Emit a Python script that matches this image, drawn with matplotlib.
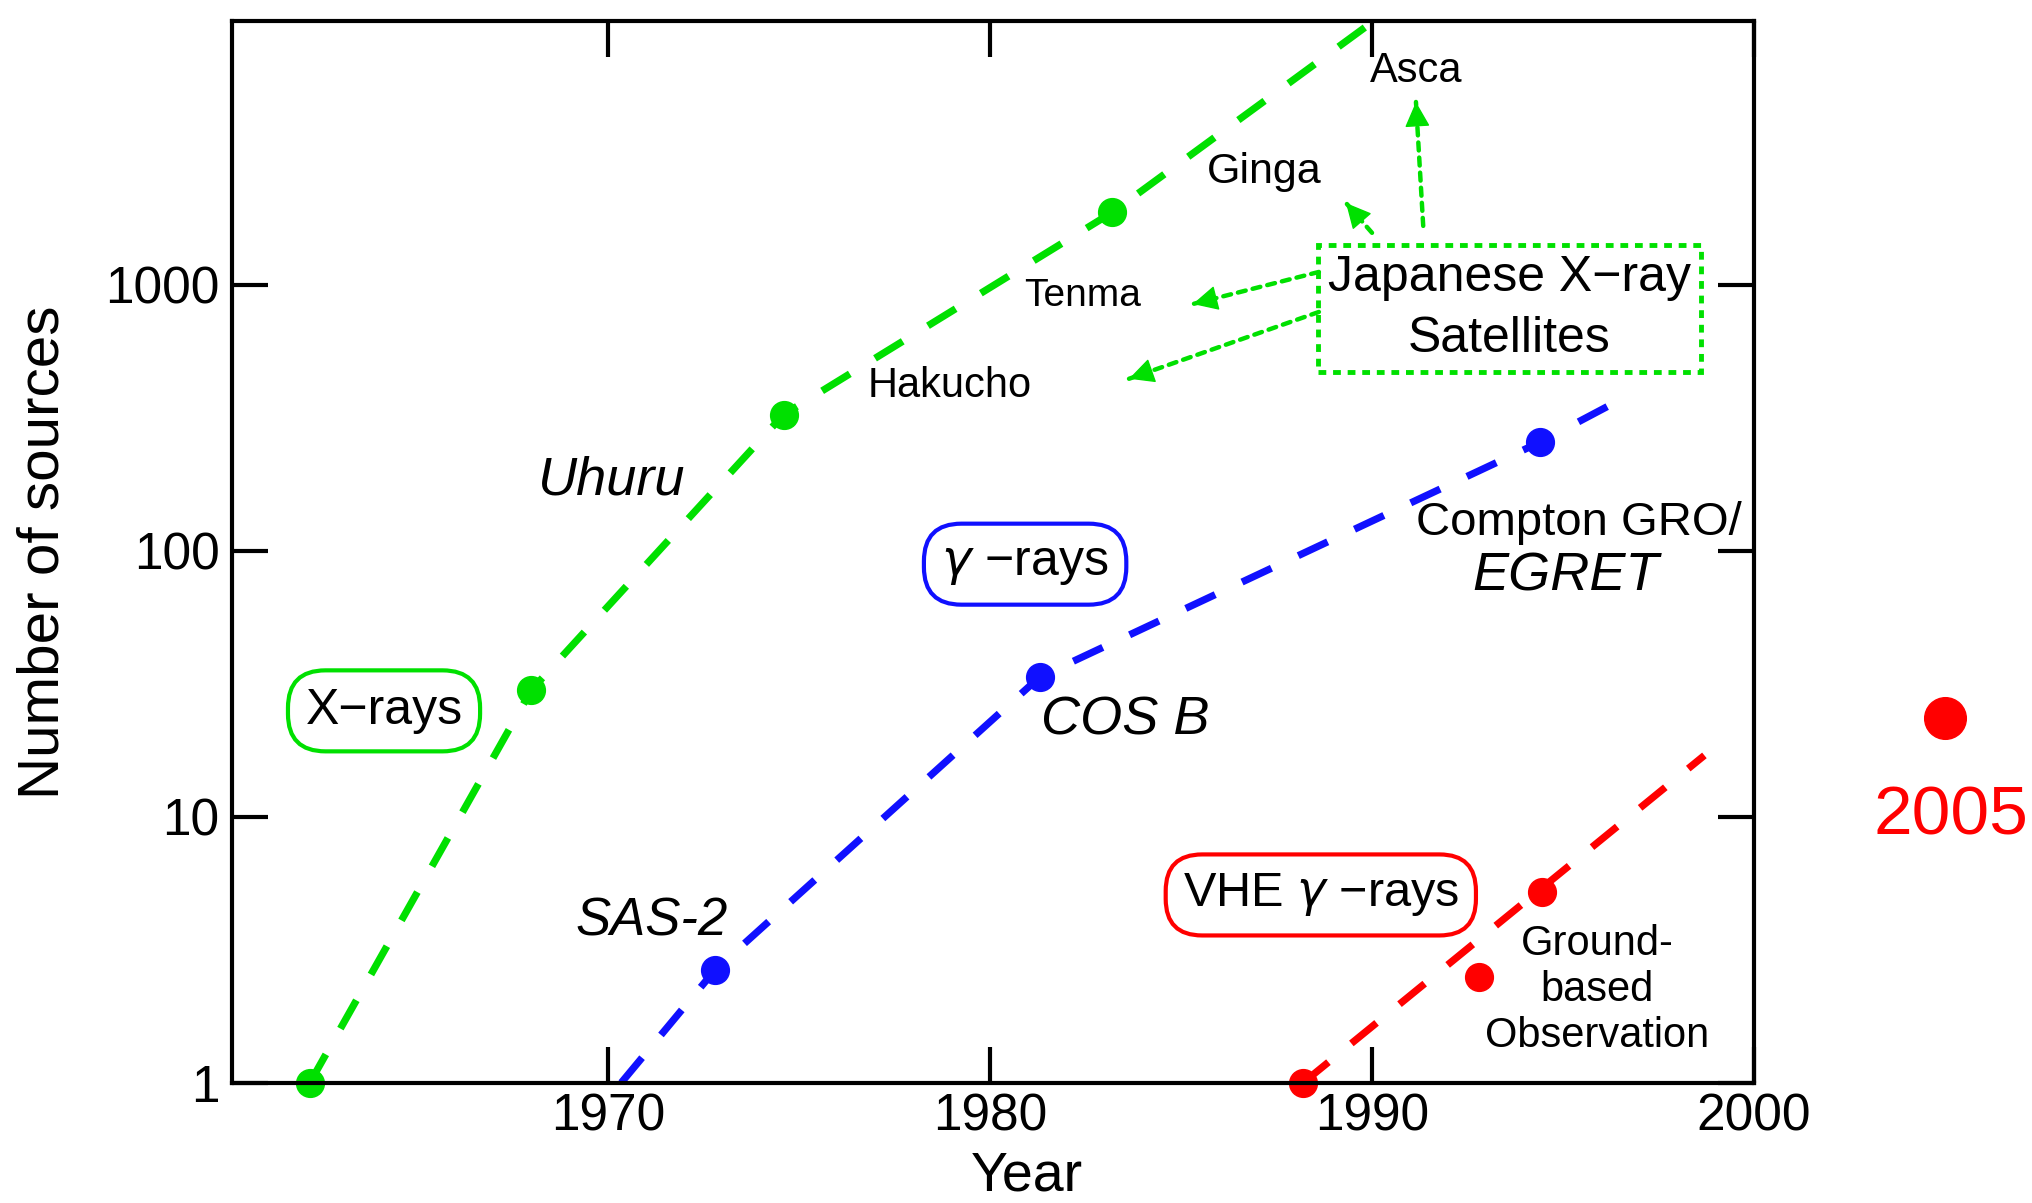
import numpy as np
import matplotlib.pyplot as plt

# X-ray sources per mission
xray_years = [1962.2, 1968.0, 1974.6, 1983.2]
xray_sources = [1, 30, 325, 1870]
xray_trend_years = [1962.2, 1968.0, 1974.6, 1983.2, 1990.0]
xray_trend_sources = [1, 30, 325, 1870, 9700]

# gamma-ray sources (SAS-2, COS B, EGRET)
gamma_years = [1972.8, 1981.3, 1994.4]
gamma_sources = [2.65, 33.5, 256]
gamma_trend_years = [1970.35, 1972.8, 1981.3, 1994.4, 1996.3]
gamma_trend_sources = [1, 2.65, 33.5, 256, 357]

# VHE gamma-ray sources from ground-based observation
vhe_years = [1988.2, 1992.8, 1994.45]
vhe_sources = [1, 2.5, 5.2]
vhe_trend_years = [1988.2, 1998.7]
vhe_trend_sources = [1, 17]
vhe_2005_year = 2005
vhe_2005_sources = 23.5

x_ticks = [1970, 1980, 1990, 2000]
y_ticks = [1, 10, 100, 1000]

GREEN = '#00e000'
BLUE = '#1010ff'
RED = '#ff0000'

plt.rcParams['font.family'] = ['Liberation Sans', 'DejaVu Sans']
plt.rcParams['mathtext.fontset'] = 'dejavusans'

fig = plt.figure(figsize=(20.33, 12.03), dpi=100)
ax = fig.add_axes([0.1141, 0.1, 0.7487, 0.8825])
ax.set_yscale('log')
ax.set_xlim(1960.16, 2000)
ax.set_ylim(1, 9800)

dash = dict(lw=5.2, dashes=(4.5, 4.1))
ax.plot(xray_trend_years, xray_trend_sources, color=GREEN, **dash)
ax.plot(xray_years, xray_sources, 'o', color=GREEN, ms=20, clip_on=False)
ax.plot(gamma_trend_years, gamma_trend_sources, color=BLUE, **dash)
ax.plot(gamma_years, gamma_sources, 'o', color=BLUE, ms=20, clip_on=False)
ax.plot(vhe_trend_years, vhe_trend_sources, color=RED, **dash)
ax.plot(vhe_years, vhe_sources, 'o', color=RED, ms=20, clip_on=False)
ax.plot([vhe_2005_year], [vhe_2005_sources], 'o', color=RED, ms=30, clip_on=False)
ax.text(vhe_2005_year + 0.15, 10, '2005', color=RED, fontsize=50,
        ha='center', va='center', clip_on=False)

# axes frame and ticks
for s in ax.spines.values():
    s.set_linewidth(3)
ax.set_xticks(x_ticks)
ax.set_yticks(y_ticks)
ax.set_yticklabels([str(v) for v in y_ticks])
ax.minorticks_off()
ax.tick_params(direction='in', length=26, width=3, top=True, right=True,
               labelsize=37)
ax.tick_params(axis='x', pad=7)
ax.tick_params(axis='y', pad=9)
ax.set_xlabel('Year', fontsize=40, va='top')
ax.xaxis.set_label_coords(0.522, -0.064)
ax.set_ylabel('Number of sources', fontsize=42)
ax.yaxis.set_label_coords(-0.106, 0.5)

# boxed band labels
def band_label(x, y, text, color, size):
    ax.text(x, y, text, fontsize=size, ha='center', va='center',
            bbox=dict(boxstyle='round,pad=0.35,rounding_size=0.75',
                      fc='white', ec=color, lw=3))

band_label(1964.14, 25, 'X\u2212rays', GREEN, 36)
band_label(1980.92, 89, r'$\gamma$ ' + '\u2212rays', BLUE, 36)
band_label(1988.66, 5.08, r'VHE $\gamma$ ' + '\u2212rays', RED, 35)

# mission names
ax.text(1970.1, 184, 'Uhuru', fontsize=39, style='italic', ha='center', va='center')
ax.text(1971.15, 4.02, 'SAS-2', fontsize=38, style='italic', ha='center', va='center')
ax.text(1983.53, 22.9, 'COS B', fontsize=39, style='italic', ha='center', va='center')
ax.text(1995.42, 127, 'Compton GRO/', fontsize=34, ha='center', va='center')
ax.text(1995.08, 80, 'EGRET', fontsize=39, style='italic', ha='center', va='center')

for name, x, y, size in [('Hakucho', 1978.95, 416, 30), ('Tenma', 1982.43, 907, 28),
                         ('Ginga', 1987.17, 2653, 31), ('Asca', 1991.15, 6350, 30)]:
    ax.text(x, y, name, fontsize=size, ha='center', va='center')

ax.text(1995.89, 2.23, 'Ground-\nbased\nObservation', fontsize=30,
        ha='center', va='center', linespacing=1.2)

ax.text(1993.59, 811, 'Japanese X\u2212ray\nSatellites', fontsize=36,
        ha='center', va='center', linespacing=1.42,
        bbox=dict(boxstyle='square,pad=0.2', fc='none', ec=GREEN, lw=3.5,
                  ls=(0, (1.6, 1.4))))

# dotted pointers from the Japanese satellites box
def dotted_arrow(start, tip):
    ax.annotate('', xy=tip, xytext=start,
                arrowprops=dict(arrowstyle='-', color=GREEN, lw=3.2,
                                ls=(0, (1.8, 1.6)), shrinkA=0, shrinkB=0))
    p0 = ax.transData.transform(start)
    p1 = ax.transData.transform(tip)
    d = (p0 - p1) / np.hypot(*(p0 - p1))
    ax.annotate('', xy=tip, xytext=tuple(d * 16), textcoords='offset pixels',
                arrowprops=dict(arrowstyle='-|>,head_length=0.8,head_width=0.4',
                                color=GREEN, lw=1, mutation_scale=20,
                                shrinkA=0, shrinkB=0))

dotted_arrow((1991.34, 1664), (1991.15, 4864))
dotted_arrow((1990.0, 1567), (1989.32, 2028))
dotted_arrow((1988.61, 1117), (1985.31, 846))
dotted_arrow((1988.61, 790), (1983.64, 443))

fig.savefig('out.png', dpi=100)
